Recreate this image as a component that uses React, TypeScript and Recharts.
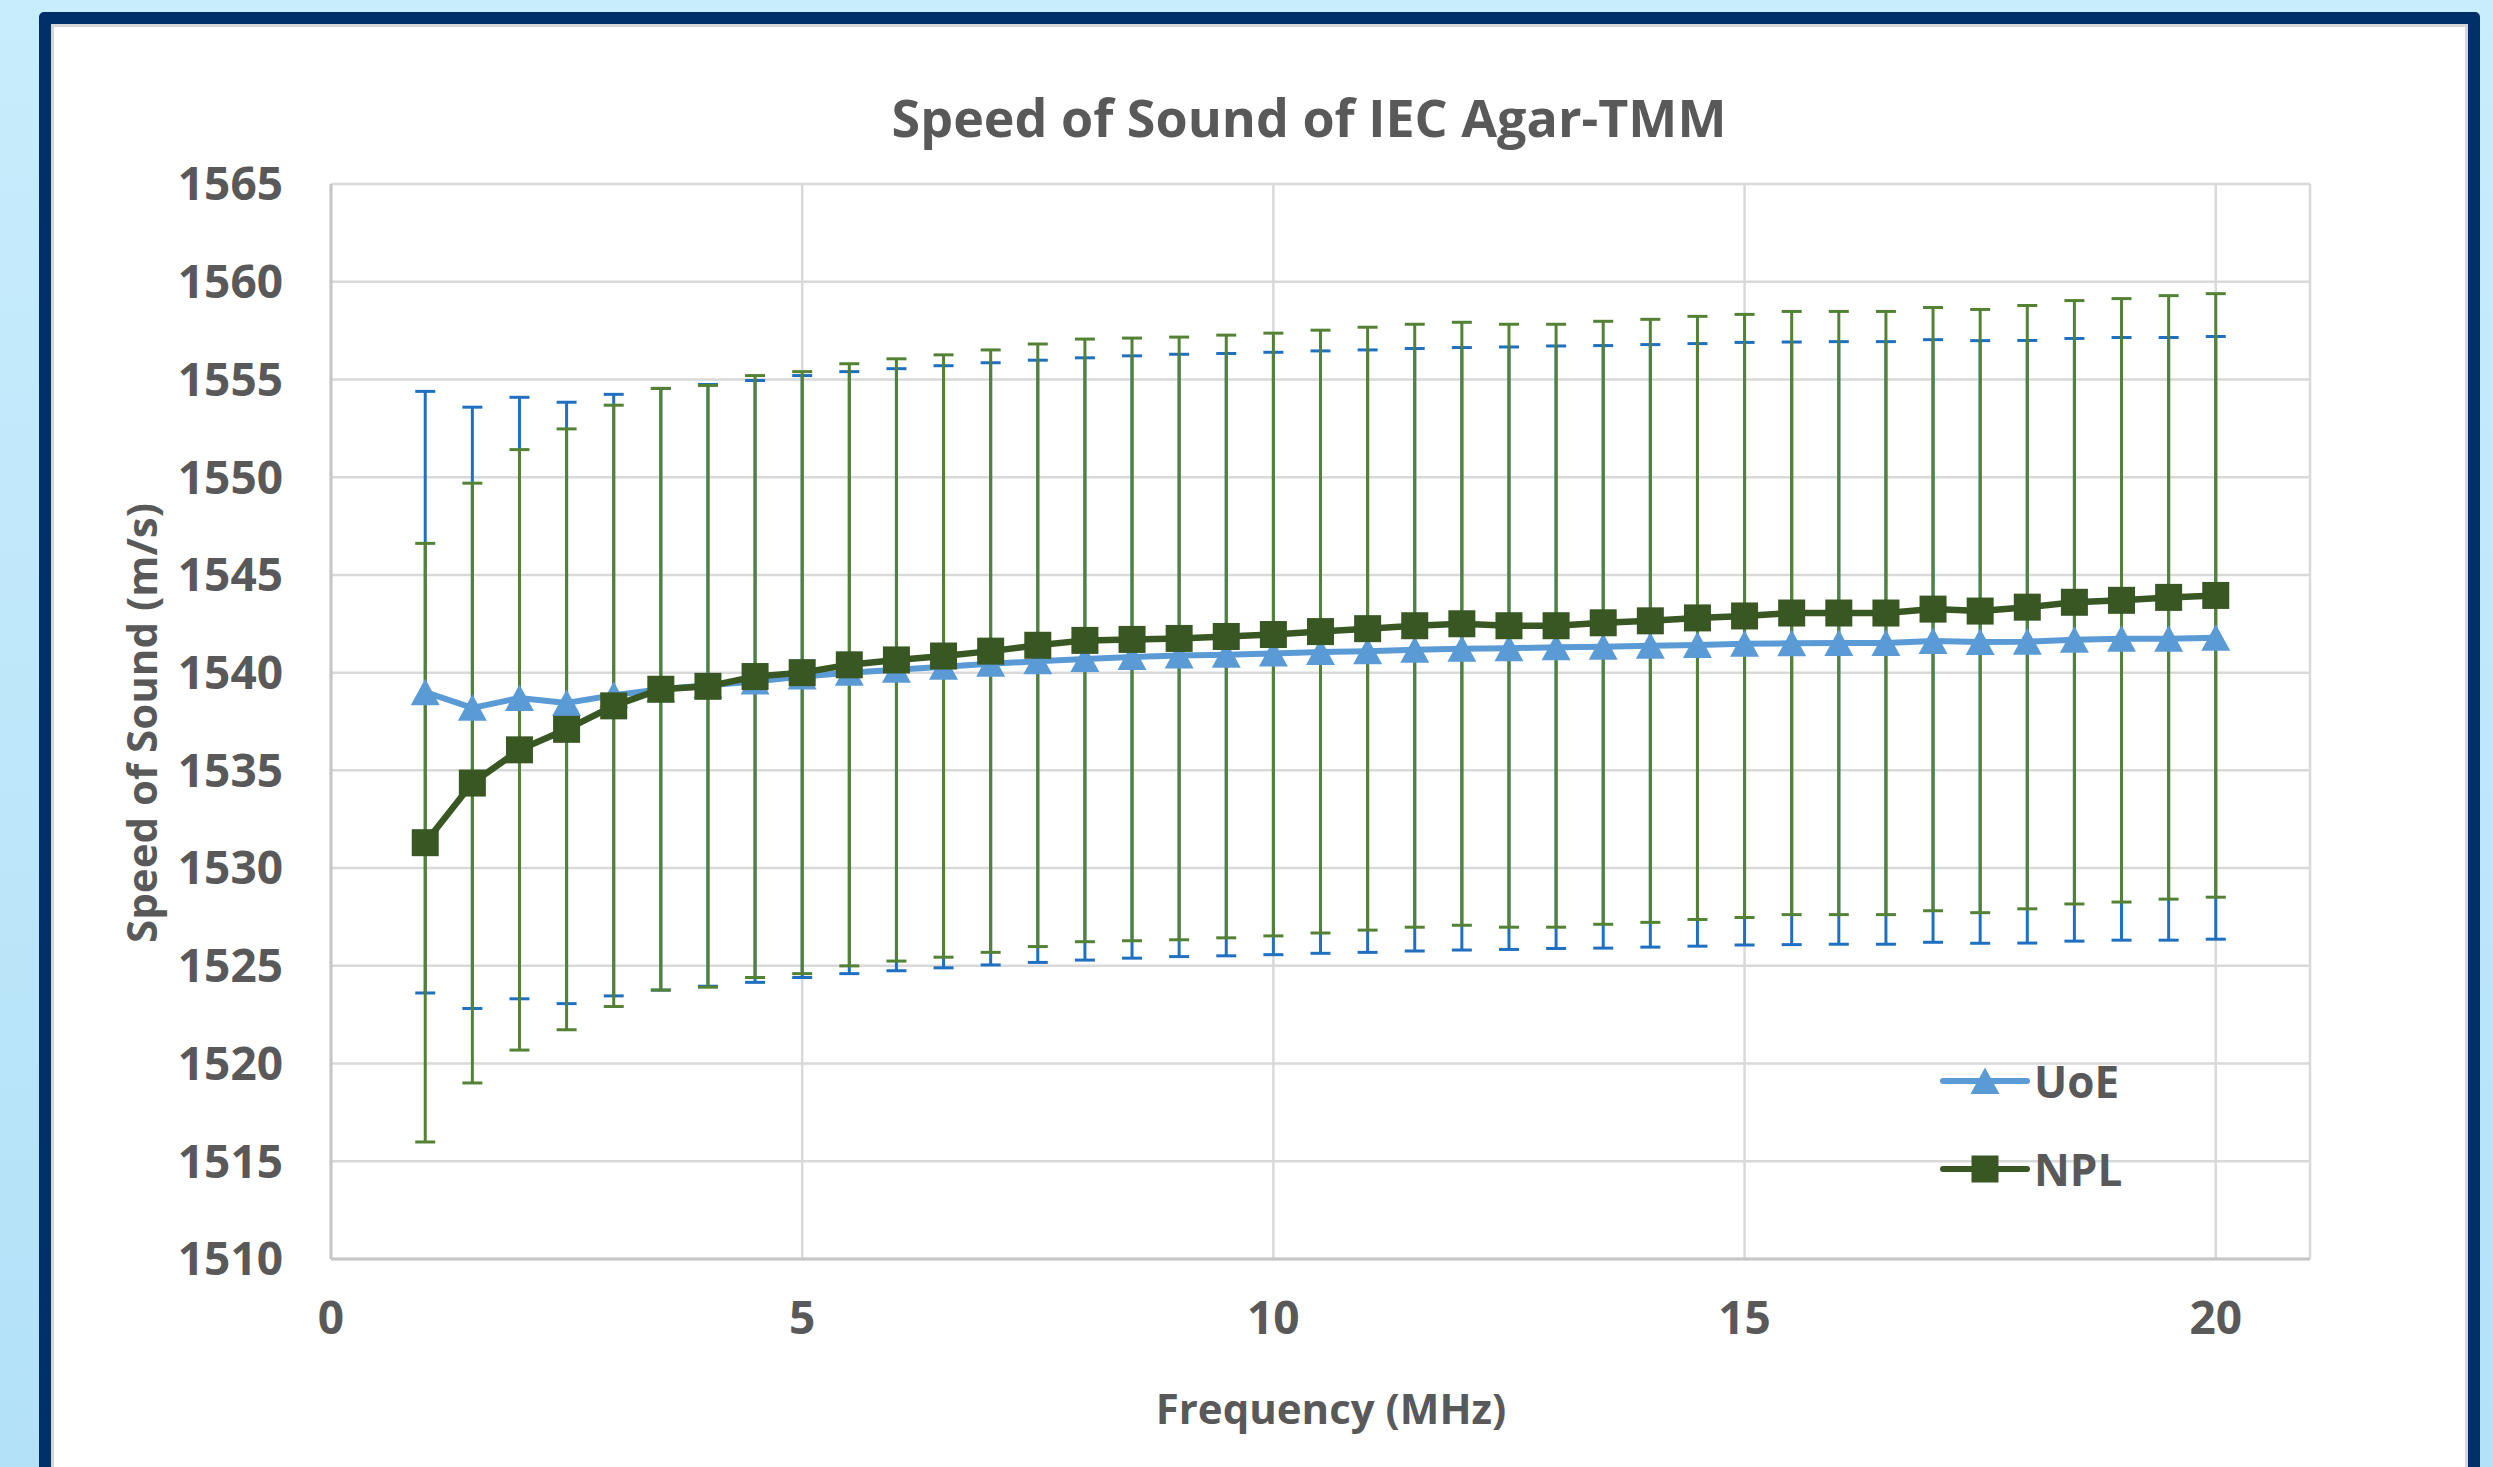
import { LineChart, Line, XAxis, YAxis, CartesianGrid, ErrorBar, Legend } from 'recharts';

const FONT = "'Open Sans', 'DejaVu Sans', sans-serif";
const TEXT = '#595959';

// frequency (MHz)
const frequencies = [
  1, 1.5, 2, 2.5, 3, 3.5, 4, 4.5, 5, 5.5, 6, 6.5, 7, 7.5, 8, 8.5, 9, 9.5, 10, 10.5,
  11, 11.5, 12, 12.5, 13, 13.5, 14, 14.5, 15, 15.5, 16, 16.5, 17, 17.5, 18, 18.5, 19, 19.5, 20,
];

// speed of sound (m/s)
const uoeSpeed = [
  1539.0, 1538.2, 1538.7, 1538.45, 1538.85, 1539.15, 1539.35, 1539.55, 1539.8, 1540.0,
  1540.15, 1540.3, 1540.45, 1540.58, 1540.7, 1540.8, 1540.88, 1540.92, 1540.98, 1541.05,
  1541.1, 1541.17, 1541.22, 1541.25, 1541.3, 1541.32, 1541.37, 1541.42, 1541.48, 1541.5,
  1541.52, 1541.52, 1541.62, 1541.57, 1541.58, 1541.68, 1541.73, 1541.73, 1541.78,
];

const nplSpeed = [
  1531.3, 1534.35, 1536.05, 1537.1, 1538.3, 1539.15, 1539.3, 1539.8, 1540.0, 1540.4,
  1540.65, 1540.85, 1541.1, 1541.4, 1541.65, 1541.7, 1541.75, 1541.85, 1541.95, 1542.1,
  1542.25, 1542.4, 1542.5, 1542.4, 1542.4, 1542.55, 1542.65, 1542.8, 1542.9, 1543.05,
  1543.05, 1543.05, 1543.25, 1543.15, 1543.35, 1543.6, 1543.7, 1543.85, 1543.95,
];

// error bars are a fixed percentage of each value
const errorPercent = 1;

const xTicks = [0, 5, 10, 15, 20, 21];
const yTicks = [1510, 1515, 1520, 1525, 1530, 1535, 1540, 1545, 1550, 1555, 1560, 1565];

const UOE_LINE = '#5b9bd5';
const UOE_ERR = '#1f70c1';
const NPL_LINE = '#385723';
const NPL_ERR = '#548235';

const data = frequencies.map((freq, i) => ({
  freq,
  uoe: uoeSpeed[i],
  npl: nplSpeed[i],
  uoeErr: (uoeSpeed[i] * errorPercent) / 100,
  nplErr: (nplSpeed[i] * errorPercent) / 100,
}));

const legendItems = [
  { name: 'UoE', color: UOE_LINE, marker: 'triangle' },
  { name: 'NPL', color: NPL_LINE, marker: 'square' },
];

function Triangle({ cx, cy, fill }: { cx: number; cy: number; fill: string }) {
  return (
    <polygon
      points={`${cx},${cy - 13.5} ${cx - 14.5},${cy + 13} ${cx + 14.5},${cy + 13}`}
      fill={fill}
    />
  );
}

function Square({ cx, cy, fill }: { cx: number; cy: number; fill: string }) {
  return <rect x={cx - 13.5} y={cy - 13.5} width={27} height={27} fill={fill} />;
}

const triangleDot = (props: any) => (
  <Triangle key={`t-${props.index}`} cx={props.cx} cy={props.cy} fill={UOE_LINE} />
);
const squareDot = (props: any) => (
  <Square key={`s-${props.index}`} cx={props.cx} cy={props.cy} fill={NPL_LINE} />
);

function LegendContent() {
  return (
    <div style={{ fontFamily: FONT }}>
      {legendItems.map(item => (
        <div key={item.name} style={{ display: 'flex', alignItems: 'center', height: 88 }}>
          <svg width={92} height={40}>
            <line x1={4} y1={20} x2={88} y2={20} stroke={item.color} strokeWidth={6} strokeLinecap="round" />
            {item.marker === 'triangle'
              ? <Triangle cx={46} cy={20} fill={item.color} />
              : <Square cx={46} cy={20} fill={item.color} />}
          </svg>
          <span style={{ fontSize: 44, fontWeight: 700, color: TEXT, marginLeft: 3, lineHeight: 1 }}>
            {item.name}
          </span>
        </div>
      ))}
    </div>
  );
}

export default function App() {
  return (
    <div
      style={{
        position: 'absolute',
        left: 0,
        top: 0,
        width: 2493,
        height: 1467,
        overflow: 'hidden',
        background: 'linear-gradient(180deg, #c8edfc 0%, #b3e1f8 100%)',
        fontFamily: FONT,
      }}
    >
      <div
        style={{
          position: 'absolute',
          left: 39,
          top: 12,
          width: 2441,
          height: 1520,
          boxSizing: 'border-box',
          border: '12px solid #00306a',
          borderRadius: 5,
          background: '#fff',
          boxShadow: 'inset 0 0 0 3px #d6d6d6',
        }}
      />

      <LineChart
        width={2493}
        height={1467}
        data={data}
        margin={{ top: 184, right: 183, bottom: 148, left: 0 }}
        style={{ position: 'absolute', left: 0, top: 0 }}
      >
        <CartesianGrid stroke="#d9d9d9" strokeWidth={2.5} />
        <XAxis
          type="number"
          dataKey="freq"
          domain={[0, 21]}
          ticks={xTicks}
          tickFormatter={(v: number) => (v === 21 ? '' : String(v))}
          height={60}
          axisLine={{ stroke: '#c6c6c6', strokeWidth: 3 }}
          tickLine={false}
          tickMargin={36}
          tick={{ fill: TEXT, fontSize: 46, fontWeight: 700, fontFamily: FONT }}
        />
        <YAxis
          type="number"
          domain={[1510, 1565]}
          ticks={yTicks}
          width={331}
          axisLine={{ stroke: '#c6c6c6', strokeWidth: 3 }}
          tickLine={false}
          tickMargin={42}
          tick={{ fill: TEXT, fontSize: 46, fontWeight: 700, fontFamily: FONT }}
        />
        <Legend
          layout="vertical"
          align="center"
          verticalAlign="middle"
          content={() => <LegendContent />}
          wrapperStyle={{ left: 1939, top: 1037, width: 'auto' }}
        />

        {/* error bars first so every line and marker sits on top of them */}
        <Line dataKey="uoe" stroke="none" dot={false} activeDot={false} legendType="none" isAnimationActive={false}>
          <ErrorBar dataKey="uoeErr" direction="y" width={10} stroke={UOE_ERR} strokeWidth={3} />
        </Line>
        <Line dataKey="npl" stroke="none" dot={false} activeDot={false} legendType="none" isAnimationActive={false}>
          <ErrorBar dataKey="nplErr" direction="y" width={10} stroke={NPL_ERR} strokeWidth={3} />
        </Line>

        <Line
          name="UoE"
          type="linear"
          dataKey="uoe"
          stroke={UOE_LINE}
          strokeWidth={6}
          dot={triangleDot}
          activeDot={false}
          isAnimationActive={false}
        />
        <Line
          name="NPL"
          type="linear"
          dataKey="npl"
          stroke={NPL_LINE}
          strokeWidth={6.5}
          dot={squareDot}
          activeDot={false}
          isAnimationActive={false}
        />
      </LineChart>

      <div
        style={{
          position: 'absolute',
          left: 1309,
          top: 116,
          transform: 'translate(-50%, -50%)',
          fontSize: 52,
          fontWeight: 700,
          color: TEXT,
          whiteSpace: 'nowrap',
        }}
      >
        Speed of Sound of IEC Agar-TMM
      </div>
      <div
        style={{
          position: 'absolute',
          left: 1331,
          top: 1407,
          transform: 'translate(-50%, -50%)',
          fontSize: 42,
          fontWeight: 700,
          color: TEXT,
          whiteSpace: 'nowrap',
        }}
      >
        Frequency (MHz)
      </div>
      <div
        style={{
          position: 'absolute',
          left: 140,
          top: 723,
          transform: 'translate(-50%, -50%) rotate(-90deg)',
          fontSize: 42,
          fontWeight: 700,
          color: TEXT,
          whiteSpace: 'nowrap',
        }}
      >
        Speed of Sound (m/s)
      </div>
    </div>
  );
}
